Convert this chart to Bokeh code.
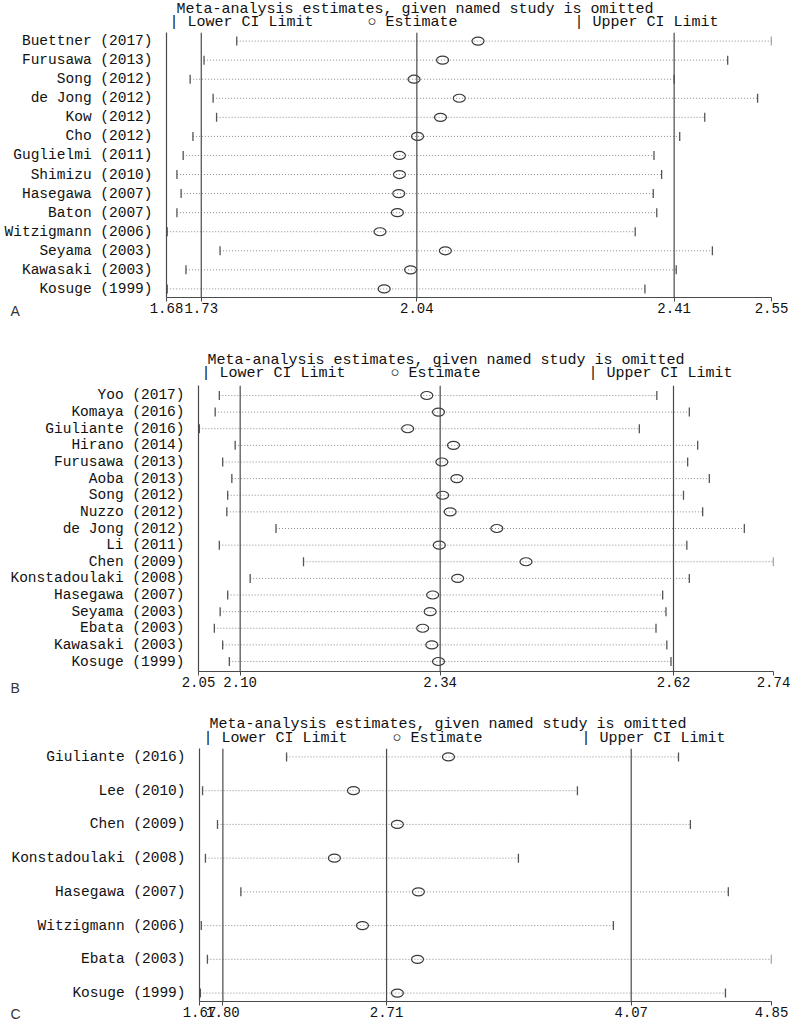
import math
from bokeh.plotting import figure
from bokeh.models import (ColumnDataSource, Range1d, FixedTicker, NumeralTickFormatter,
                          Span, Title)
from bokeh.embed import file_html
from bokeh.resources import INLINE

# ---------------- data ----------------
# Panel A
a_studies = ["Buettner (2017)", "Furusawa (2013)", "Song (2012)", "de Jong (2012)",
             "Kow (2012)", "Cho (2012)", "Guglielmi (2011)", "Shimizu (2010)",
             "Hasegawa (2007)", "Baton (2007)", "Witzigmann (2006)", "Seyama (2003)",
             "Kawasaki (2003)", "Kosuge (1999)"]
a_lower = [1.781, 1.734, 1.714, 1.747, 1.752, 1.718, 1.704, 1.695, 1.701, 1.695, 1.681, 1.757, 1.708, 1.681]
a_est = [2.128, 2.077, 2.036, 2.101, 2.074, 2.041, 2.015, 2.015, 2.014, 2.012, 1.987, 2.081, 2.031, 1.993]
a_upper = [2.55, 2.487, 2.41, 2.530, 2.454, 2.418, 2.381, 2.392, 2.380, 2.385, 2.354, 2.465, 2.413, 2.368]
a_overall = [1.73, 2.04, 2.41]
a_ticks = [1.68, 1.73, 2.04, 2.41, 2.55]

# Panel B
b_studies = ["Yoo (2017)", "Komaya (2016)", "Giuliante (2016)", "Hirano (2014)",
             "Furusawa (2013)", "Aoba (2013)", "Song (2012)", "Nuzzo (2012)",
             "de Jong (2012)", "Li (2011)", "Chen (2009)", "Konstadoulaki (2008)",
             "Hasegawa (2007)", "Seyama (2003)", "Ebata (2003)", "Kawasaki (2003)",
             "Kosuge (1999)"]
b_lower = [2.075, 2.070, 2.051, 2.094, 2.079, 2.090, 2.085, 2.084, 2.143, 2.075, 2.176, 2.112,
           2.085, 2.076, 2.069, 2.079, 2.087]
b_est = [2.324, 2.338, 2.301, 2.356, 2.342, 2.360, 2.343, 2.352, 2.408, 2.339, 2.443, 2.361,
         2.331, 2.328, 2.319, 2.330, 2.338]
b_upper = [2.600, 2.639, 2.579, 2.649, 2.637, 2.663, 2.632, 2.655, 2.705, 2.636, 2.74, 2.639,
           2.607, 2.611, 2.599, 2.612, 2.617]
b_overall = [2.10, 2.34, 2.62]
b_ticks = [2.05, 2.10, 2.34, 2.62, 2.74]

# Panel C
c_studies = ["Giuliante (2016)", "Lee (2010)", "Chen (2009)", "Konstadoulaki (2008)",
             "Hasegawa (2007)", "Witzigmann (2006)", "Ebata (2003)", "Kosuge (1999)"]
c_lower = [2.154, 1.687, 1.770, 1.703, 1.900, 1.680, 1.714, 1.675]
c_est = [3.054, 2.526, 2.770, 2.420, 2.887, 2.576, 2.882, 2.770]
c_upper = [4.333, 3.771, 4.399, 3.443, 4.610, 3.971, 4.85, 4.594]
c_overall = [1.80, 2.71, 4.07]
c_ticks = [1.67, 1.80, 2.71, 4.07, 4.85]

HEADER = "Meta-analysis estimates, given named study is omitted"
LEG_LO = "| Lower CI Limit"
LEG_EST = "\u25cb Estimate"
LEG_HI = "| Upper CI Limit"

MONO = "Liberation Mono"
SANS = "Liberation Sans"
TXT = "#111111"
AX = "#4a4a4a"
DOT = "#8a8a8a"
NB = "\u00a0"
W = 800


def panel(studies, lower, est, upper, overall, ticks, letter, g):
    n = len(studies)
    idx = list(range(n))
    src = ColumnDataSource(dict(y=idx, lo=lower, est=est, hi=upper))
    p = figure(width=W, height=g["h"], output_backend="svg", toolbar_location=None,
               x_range=Range1d(ticks[0], ticks[-1]),
               y_range=Range1d(n - 1 + g["pad"], -g["pad"]),
               min_border_left=g["bl"], min_border_right=W - g["bl"] - g["fw"],
               min_border_top=g["bt"], min_border_bottom=g["bb"])
    p.outline_line_color = None
    p.grid.visible = False
    p.background_fill_color = "white"
    p.border_fill_color = "white"

    for v in overall:
        p.add_layout(Span(location=v, dimension="height", line_color=AX, line_width=1.2))

    p.segment(x0="lo", y0="y", x1="hi", y1="y", source=src, line_color=DOT,
              line_width=1, line_dash="1 2")
    p.scatter(x="lo", y="y", source=src, marker="dash", angle=math.pi / 2, size=9,
              line_color="#555555", line_width=1.3)
    p.scatter(x="hi", y="y", source=src, marker="dash", angle=math.pi / 2, size=9,
              line_color="#555555", line_width=1.3)
    p.ellipse(x="est", y="y", width=12, height=8, width_units="screen", height_units="screen",
              source=src, fill_color="white", fill_alpha=0.0, line_color="#3a3a3a", line_width=1.2)

    # x axis
    xa = p.xaxis[0]
    xa.ticker = FixedTicker(ticks=ticks)
    xa.formatter = NumeralTickFormatter(format="0.00")
    xa.minor_tick_line_color = None
    xa.major_tick_out = 4
    xa.major_tick_in = 0
    xa.major_tick_line_color = AX
    xa.axis_line_color = AX
    xa.axis_line_width = 1.2
    xa.major_label_text_font = MONO
    xa.major_label_text_font_size = "14px"
    xa.major_label_text_color = TXT
    xa.major_label_standoff = 1

    # y axis
    ya = p.yaxis[0]
    ya.ticker = FixedTicker(ticks=idx)
    ya.major_label_overrides = {i: s for i, s in enumerate(studies)}
    ya.major_tick_line_color = None
    ya.major_tick_out = 0
    ya.major_tick_in = 0
    ya.minor_tick_line_color = None
    ya.axis_line_color = AX
    ya.axis_line_width = 1.2
    ya.major_label_text_font = MONO
    ya.major_label_text_font_size = "14.5px"
    ya.major_label_text_color = TXT
    ya.major_label_standoff = 14

    legend_text = LEG_LO + NB * g["s1"] + LEG_EST + NB * g["s2"] + LEG_HI
    p.add_layout(Title(text=legend_text, align="left", offset=g["lo"], standoff=g["gs"],
                       text_font=MONO, text_font_size="15px", text_font_style="normal",
                       text_color=TXT), "above")
    p.add_layout(Title(text=HEADER, align="left", offset=g["hx"], standoff=g["hs"],
                       text_font=MONO, text_font_size="15px", text_font_style="normal",
                       text_color=TXT), "above")
    p.add_layout(Title(text=letter, align="left", offset=g["lx"], standoff=g["ls"],
                       vertical_align="top",
                       text_font=SANS, text_font_size="14px", text_font_style="normal",
                       text_color="#333333"), "below")
    return p


gA = dict(h=330, bl=166, fw=605, bt=32, bb=33, pad=0.45,
          hx=10, hs=-17, gs=4, lo=3, s1=6, s2=13, lx=-156, ls=-26)
gB = dict(h=371, bl=198, fw=575, bt=55, bb=30, pad=0.6,
          hx=9, hs=-21, gs=8, lo=3, s1=5, s2=12, lx=-188, ls=-20)
gC = dict(h=324, bl=199, fw=572, bt=47, bb=24, pad=0.25,
          hx=10, hs=-15, gs=4, lo=4, s1=5, s2=11, lx=-189, ls=-28)

pA = panel(a_studies, a_lower, a_est, a_upper, a_overall, a_ticks, "A", gA)
pB = panel(b_studies, b_lower, b_est, b_upper, b_overall, b_ticks, "B", gB)
pC = panel(c_studies, c_lower, c_est, c_upper, c_overall, c_ticks, "C", gC)

open("out.html", "w").write(file_html((pA, pB, pC), INLINE))
